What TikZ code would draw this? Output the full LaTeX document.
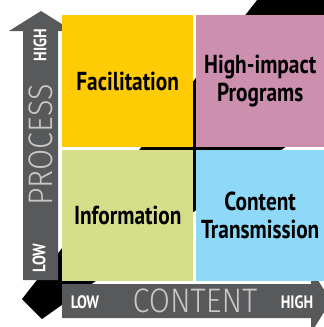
\documentclass[tikz,border=0pt]{standalone}
\usepackage{fontspec}
\newfontfamily\quadfont{PT Sans}[FakeStretch=0.82]
\newfontfamily\axisfont{Fira Sans Light}[FakeStretch=0.9]
\definecolor{facil}{RGB}{255,203,5}
\definecolor{highimp}{RGB}{204,143,173}
\definecolor{inform}{RGB}{213,223,138}
\definecolor{transm}{RGB}{142,216,248}
\definecolor{axisgrey}{RGB}{88,89,91}
\definecolor{axistext}{RGB}{200,200,200}

\begin{document}
\begin{tikzpicture}
	  [x=1pt,y=-1pt,every node/.style={inner sep=0pt,align=center},
	   quad/.style={anchor=north west,minimum height=132pt,font=\quadfont\bfseries\fontsize{26}{28}\selectfont},
	   tag/.style={text=white,font=\quadfont\bfseries\fontsize{18}{18}\selectfont},
	   axislabel/.style={text=axistext,font=\axisfont\fontsize{34}{34}\selectfont}]
	  \useasboundingbox (0,0) rectangle (324,327);
	  \clip (0,0) rectangle (324,327);
	  \fill (22,299) -- (42,319) -- (345,105) -- (345,-10) -- (265,-10) -- cycle;
	  \fill[axisgrey] (23,280) -- (23,31) -- (9,31) -- (41,11) -- (73,31) -- (58,31) -- (58,280) -- cycle;
	  \fill[axisgrey] (62,284) -- (311,284) -- (311,269) -- (331,301) -- (311,333) -- (311,318) -- (62,318) -- cycle;

	  \node[quad,fill=facil,minimum width=131pt] (fac) at (62,15) {Facilitation};
	  \node[quad,fill=highimp,minimum width=128pt] (hip) at (196,15) {High-impact\\Programs};
	  \node[quad,fill=inform,minimum width=131pt,minimum height=131pt] (inf) at (62,150) {Information};
	  \node[quad,fill=transm,minimum width=128pt,minimum height=131pt] (ctr) at (196,150) {Content\\Transmission};

	  \node[axislabel,rotate=90] (proc) at (41,145) {PROCESS};
	  \node[axislabel] (cont) at (195,301) {CONTENT};
	  \foreach \name/\x/\y/\rot/\txt in {phigh/40/45/90/HIGH,plow/39/258/90/LOW,clow/85/302/0/LOW,chigh/297/302/0/HIGH}
	    \node[tag,rotate=\rot] (\name) at (\x,\y) {\txt};
	\end{tikzpicture}
\end{document}
